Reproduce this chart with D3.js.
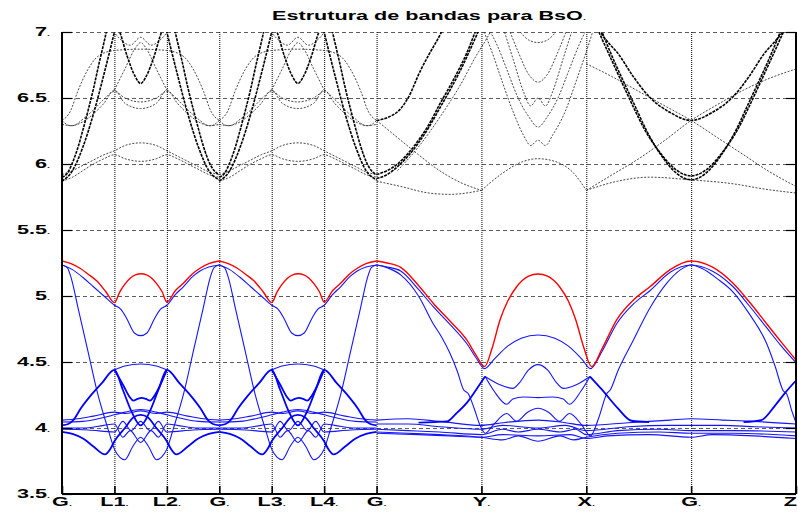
<!DOCTYPE html>
<html>
<head>
<meta charset="utf-8">
<script src="https://cdn.jsdelivr.net/npm/d3@7"></script>
<style>
  body { margin: 0; background: #fff; }
  text { font-family: "Liberation Sans", Arial, sans-serif; font-weight: bold; }
</style>
</head>
<body>
<div id="chart"></div>
<script>
// k-path ticks and labels
var kTicks = [0, 0.5, 1, 1.5, 2, 2.5, 3, 4, 5, 6, 7];
var kLabels = ["G", "L1", "L2", "G", "L3", "L4", "G", "Y", "X", "G", "Z"];
var eTicks = [3.5, 4, 4.5, 5, 5.5, 6, 6.5, 7];
var eLabels = ["3.5", "4", "4.5", "5", "5.5", "6", "6.5", "7"];

// the G-L-L-G block repeats twice
var blockStarts = [0, 1.5];

var blockRed = [[0,5.265],[0.086,5.245],[0.172,5.21],[0.25,5.165],[0.33,5.115],[0.42,5.03],[0.5,4.95],[0.55,5.03],[0.6,5.09],[0.65,5.135],[0.7,5.16],[0.753,5.168],[0.806,5.16],[0.856,5.135],[0.906,5.09],[0.956,5.03],[1.0,4.955],[1.08,5.04],[1.157,5.096],[1.24,5.165],[1.316,5.21],[1.4,5.245],[1.5,5.265]];

var blockBlue = [
  [[0,5.235],[0.1,5.2],[0.2,5.14],[0.3,5.07],[0.4,5.0],[0.5,4.93],[0.56,4.9],[0.617,4.83],[0.69,4.72],[0.75,4.70],[0.81,4.72],[0.883,4.83],[0.94,4.9],[1.0,4.93],[1.08,5.01],[1.157,5.07],[1.25,5.15],[1.316,5.19],[1.4,5.22],[1.5,5.235]],
  [[0,5.235],[0.05,5.215],[0.09,5.13],[0.15,4.92],[0.245,4.59],[0.34,4.26],[0.44,3.99],[0.5,3.84],[0.55,3.78],[0.6,3.76],[0.675,3.86],[0.75,3.93],[0.825,3.86],[0.9,3.76],[0.95,3.78],[1.0,3.84],[1.06,3.99],[1.16,4.26],[1.255,4.59],[1.35,4.92],[1.41,5.13],[1.45,5.215],[1.5,5.235]],
  [[0.5,4.44],[0.6,4.47],[0.75,4.485],[0.9,4.47],[1.0,4.44]],
  [[0,4.06],[0.15,4.07],[0.3,4.09],[0.5,4.12],[0.6,4.11],[0.75,4.13],[0.9,4.11],[1.0,4.12],[1.2,4.09],[1.35,4.07],[1.5,4.06]],
  [[0,4.045],[0.2,4.05],[0.4,4.08],[0.5,4.1],[0.6,4.12],[0.75,4.14],[0.9,4.12],[1.0,4.1],[1.1,4.08],[1.3,4.05],[1.5,4.045]],
  [[0,4.0],[0.2,4.0],[0.4,4.02],[0.5,4.03],[0.58,3.93],[0.65,3.98],[0.75,3.89],[0.85,3.98],[0.92,3.93],[1.0,4.03],[1.1,4.02],[1.3,4.0],[1.5,4.0]],
  [[0,3.99],[0.25,3.985],[0.5,3.97],[0.58,4.05],[0.66,3.98],[0.75,4.05],[0.84,3.98],[0.92,4.05],[1.0,3.97],[1.25,3.985],[1.5,3.99]]
];

var blockBlueThick = [
  [[0,4.02],[0.06,4.03],[0.108,4.06],[0.18,4.15],[0.267,4.24],[0.38,4.34],[0.5,4.44],[0.58,4.29],[0.66,4.13],[0.75,4.02],[0.84,4.13],[0.92,4.29],[1.0,4.44],[1.12,4.34],[1.233,4.24],[1.32,4.15],[1.392,4.06],[1.44,4.03],[1.5,4.02]],
  [[0.5,4.44],[0.58,4.33],[0.65,4.23],[0.68,4.207],[0.72,4.22],[0.76,4.228],[0.8,4.22],[0.84,4.207],[0.87,4.23],[0.94,4.33],[1.0,4.44]],
  [[0,3.97],[0.1,3.955],[0.2,3.92],[0.3,3.86],[0.41,3.80],[0.46,3.84],[0.5,3.9],[0.6,4.0],[0.68,4.08],[0.75,4.1],[0.82,4.08],[0.9,4.0],[1.0,3.9],[1.04,3.84],[1.09,3.80],[1.2,3.86],[1.3,3.92],[1.4,3.955],[1.5,3.97]]
];

var blockBlackHeavy = [
  [[0,5.90],[0.05,5.93],[0.1,6.01],[0.15,6.12],[0.2,6.26],[0.25,6.41],[0.3,6.57],[0.35,6.75],[0.4,6.92],[0.45,7.1]],
  [[0,5.87],[0.1,5.95],[0.2,6.13],[0.3,6.38],[0.4,6.68],[0.5,7.0],[0.53,7.1]],
  [[1.05,7.1],[1.1,6.93],[1.15,6.76],[1.2,6.58],[1.25,6.42],[1.3,6.27],[1.35,6.13],[1.4,6.02],[1.45,5.95],[1.5,5.92]],
  [[0.97,7.1],[1.0,7.0],[1.1,6.68],[1.2,6.38],[1.3,6.13],[1.4,5.95],[1.5,5.88]],
  [[0.52,7.05],[0.55,7.0],[0.62,6.82],[0.7,6.66],[0.75,6.61],[0.8,6.66],[0.88,6.82],[0.95,7.0],[0.98,7.05]]
];

var blockBlackLight = [
  [[0,5.87],[0.1,5.9],[0.2,5.95],[0.3,6.0],[0.4,6.04],[0.5,6.07],[0.6,6.04],[0.75,6.02],[0.9,6.04],[1.0,6.07],[1.1,6.04],[1.2,6.0],[1.3,5.96],[1.4,5.92],[1.5,5.90]],
  [[0,5.92],[0.1,5.95],[0.2,5.99],[0.3,6.03],[0.4,6.07],[0.5,6.1],[0.6,6.14],[0.75,6.16],[0.9,6.14],[1.0,6.1],[1.1,6.06],[1.2,6.02],[1.3,5.98],[1.4,5.94],[1.5,5.92]],
  [[0,6.33],[0.08,6.29],[0.2,6.32],[0.3,6.38],[0.4,6.46],[0.5,6.56],[0.6,6.46],[0.75,6.42],[0.9,6.46],[1.0,6.56],[1.1,6.46],[1.2,6.38],[1.3,6.32],[1.42,6.29],[1.5,6.33]],
  [[0,6.30],[0.1,6.29],[0.2,6.34],[0.3,6.41],[0.4,6.49],[0.5,6.55],[0.6,6.5],[0.75,6.47],[0.9,6.5],[1.0,6.55],[1.1,6.49],[1.2,6.41],[1.3,6.34],[1.4,6.29],[1.5,6.30]],
  [[0,6.33],[0.08,6.40],[0.15,6.55],[0.25,6.72],[0.35,6.82],[0.5,6.86],[0.75,6.87],[1.0,6.86],[1.15,6.82],[1.25,6.72],[1.35,6.55],[1.42,6.40],[1.5,6.33]],
  [[0.5,6.56],[0.6,6.72],[0.7,6.88],[0.75,6.92],[0.8,6.88],[0.9,6.72],[1.0,6.56]],
  [[0.45,7.05],[0.55,6.95],[0.65,6.9],[0.75,6.96],[0.85,6.9],[0.95,6.95],[1.05,7.05]]
];

// G - Y - X - G - Z part
var pathRed = [[3.0,5.265],[3.1,5.25],[3.23,5.217],[3.4,5.08],[3.54,4.945],[3.7,4.81],[3.86,4.667],[3.95,4.55],[4.03,4.465],[4.1,4.6],[4.177,4.818],[4.25,4.96],[4.336,5.07],[4.45,5.15],[4.54,5.167],[4.63,5.15],[4.745,5.07],[4.83,4.96],[4.9,4.818],[4.98,4.6],[5.05,4.465],[5.15,4.6],[5.29,4.82],[5.45,4.97],[5.607,5.07],[5.8,5.2],[6.0,5.265],[6.2,5.22],[6.4,5.096],[6.55,4.96],[6.72,4.79],[6.85,4.66],[7.0,4.515]];

var pathBlue = [
  [[3.0,5.235],[3.1,5.22],[3.23,5.19],[3.4,5.05],[3.54,4.92],[3.7,4.785],[3.86,4.64],[3.95,4.53],[4.03,4.45],[4.12,4.52],[4.25,4.62],[4.38,4.68],[4.54,4.705],[4.7,4.68],[4.83,4.62],[4.96,4.52],[5.04,4.45],[5.15,4.58],[5.29,4.79],[5.45,4.94],[5.607,5.04],[5.8,5.18],[6.0,5.235],[6.2,5.19],[6.4,5.07],[6.55,4.93],[6.72,4.76],[6.85,4.63],[7.0,4.495]],
  [[3.0,5.235],[3.1,5.215],[3.23,5.16],[3.4,5.0],[3.54,4.79],[3.62,4.69],[3.7,4.566],[3.77,4.43],[3.83,4.29],[3.875,4.26],[3.93,4.15],[3.987,4.02],[4.035,3.96],[4.12,4.03],[4.24,4.11],[4.336,4.05],[4.44,4.12],[4.54,4.15],[4.64,4.12],[4.745,4.05],[4.84,4.11],[4.96,4.02],[5.04,3.94],[5.12,4.08],[5.195,4.26],[5.23,4.29],[5.3,4.43],[5.45,4.667],[5.6,4.9],[5.77,5.1],[5.9,5.2],[6.0,5.235],[6.1,5.21],[6.25,5.13],[6.4,5.03],[6.55,4.87],[6.72,4.64],[6.8,4.47],[6.88,4.28],[6.91,4.26],[6.96,4.13],[7.0,4.04]],
  [[4.035,4.39],[4.17,4.33],[4.3,4.30],[4.36,4.34],[4.45,4.44],[4.54,4.48],[4.63,4.44],[4.72,4.34],[4.78,4.30],[4.91,4.33],[5.035,4.39]],
  [[4.035,4.39],[4.12,4.28],[4.24,4.18],[4.3,4.22],[4.4,4.235],[4.54,4.23],[4.68,4.235],[4.78,4.22],[4.84,4.18],[4.95,4.28],[5.035,4.39]],
  [[3.0,4.06],[3.3,4.07],[3.6,4.05],[4.0,4.02],[4.2,4.04],[4.54,4.06],[4.8,4.04],[5.0,4.02],[5.4,4.04],[5.8,4.06],[6.0,4.07],[6.3,4.06],[6.6,4.05],[7.0,4.03]],
  [[3.0,4.03],[3.3,4.03],[3.6,4.01],[4.0,3.99],[4.2,4.02],[4.54,4.0],[4.8,4.02],[5.0,3.98],[5.4,4.01],[5.8,4.02],[6.0,4.02],[6.3,4.02],[6.6,4.01],[7.0,4.0]],
  [[3.0,3.99],[3.3,3.98],[3.6,3.97],[4.0,3.95],[4.2,3.99],[4.35,3.97],[4.54,3.99],[4.75,3.97],[4.9,3.99],[5.0,3.95],[5.3,3.98],[5.7,3.99],[6.0,3.98],[6.4,3.98],[7.0,3.97]],
  [[3.0,3.97],[3.3,3.96],[3.6,3.95],[4.0,3.93],[4.2,3.91],[4.35,3.94],[4.54,3.90],[4.75,3.94],[4.88,3.91],[5.0,3.93],[5.3,3.96],[5.7,3.97],[6.0,3.96],[6.4,3.96],[7.0,3.94]],
  [[3.0,3.96],[3.4,3.95],[3.7,3.94],[4.0,3.93],[4.2,3.95],[4.54,3.94],[4.85,3.95],[5.0,3.92],[5.2,3.94],[5.6,3.95],[6.0,3.93],[6.2,3.95],[6.6,3.94],[7.0,3.92]]
];

var pathBlueThick = [
  [[3.4,4.04],[3.55,4.045],[3.67,4.05],[3.76,4.11],[3.86,4.19],[3.95,4.29],[4.035,4.39]],
  [[5.035,4.39],[5.15,4.29],[5.3,4.15],[5.43,4.055],[5.6,4.045]],
  [[6.5,4.045],[6.67,4.06],[6.8,4.17],[6.9,4.27],[7.0,4.36]]
];

var pathBlackHeavy = [
  [[3.0,5.92],[3.1,5.95],[3.2,6.0],[3.3,6.08],[3.4,6.18],[3.5,6.3],[3.6,6.45],[3.7,6.59],[3.8,6.74],[3.86,6.84],[3.94,7.0],[3.98,7.08]],
  [[3.0,5.89],[3.1,5.92],[3.2,5.98],[3.3,6.06],[3.4,6.16],[3.5,6.28],[3.6,6.42],[3.7,6.56],[3.8,6.71],[3.9,6.88],[3.98,7.02],[4.02,7.08]],
  [[3.0,6.33],[3.1,6.35],[3.23,6.42],[3.3,6.5],[3.42,6.71],[3.5,6.83],[3.6,6.97],[3.65,7.05]],
  [[5.12,7.05],[5.14,7.0],[5.2,6.93],[5.3,6.84],[5.45,6.66],[5.6,6.51],[5.8,6.39],[6.0,6.33],[6.2,6.39],[6.4,6.51],[6.55,6.66],[6.7,6.84],[6.8,6.93],[6.87,7.0],[6.9,7.05]],
  [[5.12,7.0],[5.24,6.79],[5.35,6.6],[5.45,6.43],[5.55,6.27],[5.71,6.08],[5.85,5.96],[6.0,5.91],[6.15,5.96],[6.29,6.08],[6.45,6.27],[6.55,6.43],[6.65,6.6],[6.76,6.79],[6.88,7.0]],
  [[5.14,7.02],[5.26,6.79],[5.37,6.6],[5.47,6.43],[5.57,6.26],[5.72,6.06],[5.86,5.93],[6.0,5.88],[6.14,5.93],[6.28,6.06],[6.43,6.26],[6.53,6.43],[6.63,6.6],[6.74,6.79],[6.86,7.02]]
];

var pathBlackLight = [
  [[3.0,6.33],[3.2,6.2],[3.4,6.07],[3.6,5.95],[3.8,5.86],[4.0,5.80]],
  [[3.0,5.87],[3.23,5.83],[3.5,5.78],[3.7,5.77],[4.0,5.80]],
  [[3.2,5.95],[3.4,6.13],[3.6,6.35],[3.8,6.6],[3.95,6.82],[4.05,6.95],[4.12,7.05]],
  [[4.0,5.80],[4.2,5.93],[4.4,6.02],[4.54,6.04],[4.7,6.02],[4.88,5.93],[5.0,5.80]],
  [[4.0,7.05],[4.1,6.85],[4.2,6.62],[4.3,6.4],[4.4,6.22],[4.47,6.14],[4.54,6.18],[4.61,6.14],[4.68,6.22],[4.8,6.4],[4.9,6.62],[5.0,6.85],[5.08,7.05]],
  [[4.05,7.05],[4.15,6.9],[4.25,6.7],[4.35,6.5],[4.45,6.36],[4.54,6.28],[4.63,6.36],[4.73,6.5],[4.83,6.7],[4.93,6.9],[5.02,7.05]],
  [[4.2,7.05],[4.3,6.8],[4.4,6.55],[4.47,6.44],[4.54,6.5],[4.61,6.44],[4.68,6.55],[4.78,6.8],[4.88,7.05]],
  [[4.25,7.05],[4.35,6.85],[4.45,6.68],[4.54,6.62],[4.63,6.68],[4.73,6.85],[4.83,7.05]],
  [[4.35,7.02],[4.45,6.94],[4.54,6.92],[4.63,6.94],[4.73,7.02]],
  [[5.0,6.76],[5.25,6.66],[5.5,6.55],[5.75,6.44],[6.0,6.33],[6.25,6.2],[6.5,6.07],[6.75,5.94],[7.0,5.83]],
  [[5.0,5.80],[5.25,5.92],[5.5,6.04],[5.75,6.18],[6.0,6.33],[6.25,6.45],[6.5,6.56],[6.75,6.65],[7.0,6.72]],
  [[5.0,5.80],[5.3,5.87],[5.6,5.9],[6.0,5.88],[6.4,5.85],[6.7,5.81],[7.0,5.78]]
];

var svgWidth = 798, svgHeight = 512;
var margin = {top: 32, right: 2, bottom: 18, left: 62};
var width = svgWidth - margin.left - margin.right;
var height = svgHeight - margin.top - margin.bottom;

var svg = d3.select("#chart").append("svg")
  .attr("width", svgWidth)
  .attr("height", svgHeight);

var g = svg.append("g")
  .attr("transform", `translate(${margin.left},${margin.top})`);

var x = d3.scaleLinear().domain([0, 7]).range([0, width]);
var y = d3.scaleLinear().domain([3.5, 7]).range([height, 0]);

// grid
g.append("g")
  .call(d3.axisLeft(y).tickValues(eTicks).tickSize(-width).tickFormat(""))
  .call(s => s.select(".domain").remove())
  .selectAll("line")
  .attr("stroke", "#333")
  .attr("stroke-width", 0.8)
  .attr("stroke-dasharray", "4,3");

g.append("g")
  .attr("transform", `translate(0,${height})`)
  .call(d3.axisBottom(x).tickValues(kTicks).tickSize(height).tickFormat(""))
  .call(s => s.select(".domain").remove())
  .selectAll("line")
  .attr("transform", `translate(0,${-height})`)
  .attr("stroke", "#000")
  .attr("stroke-width", 1)
  .attr("stroke-dasharray", "1,1");

g.append("clipPath").attr("id", "plotclip")
  .append("rect").attr("width", width).attr("height", height);

var bands = g.append("g").attr("clip-path", "url(#plotclip)");

function drawSet(list, offset, color, w, dash) {
  var line = d3.line()
    .x(d => x(d[0] + offset))
    .y(d => y(d[1]))
    .curve(d3.curveMonotoneX);
  bands.append("g").selectAll("path")
    .data(list)
    .enter()
    .append("path")
    .attr("d", line)
    .attr("fill", "none")
    .attr("stroke", color)
    .attr("stroke-width", w)
    .attr("stroke-dasharray", dash);
}

// conduction bands (black dotted)
blockStarts.forEach(function(k0) {
  drawSet(blockBlackLight, k0, "#333", 0.9, "2,1.5");
  drawSet(blockBlackHeavy, k0, "#000", 1.6, "3,1");
});
drawSet(pathBlackLight, 0, "#333", 0.9, "2,1.5");
drawSet(pathBlackHeavy, 0, "#000", 1.6, "3,1");

// valence bands
blockStarts.forEach(function(k0) {
  drawSet(blockBlue, k0, "#1515ff", 1.1, null);
  drawSet(blockBlueThick, k0, "#0000ff", 1.8, null);
  drawSet([blockRed], k0, "#ff0000", 1.4, null);
});
drawSet(pathBlue, 0, "#1515ff", 1.1, null);
drawSet(pathBlueThick, 0, "#0000ff", 1.8, null);
drawSet([pathRed], 0, "#ff0000", 1.4, null);

// ticks
g.append("g")
  .call(d3.axisLeft(y).tickValues(eTicks).tickSize(-10).tickFormat(""))
  .call(s => s.select(".domain").remove())
  .selectAll("line").attr("stroke", "#000").attr("stroke-width", 1.2);
g.append("g")
  .attr("transform", `translate(${width},0)`)
  .call(d3.axisRight(y).tickValues(eTicks).tickSize(-10).tickFormat(""))
  .call(s => s.select(".domain").remove())
  .selectAll("line").attr("stroke", "#000").attr("stroke-width", 1.2);
g.append("g")
  .attr("transform", `translate(0,${height})`)
  .call(d3.axisBottom(x).tickValues(kTicks).tickSize(-8).tickFormat(""))
  .call(s => s.select(".domain").remove())
  .selectAll("line").attr("stroke", "#000").attr("stroke-width", 1.6);

// frame
g.append("line").attr("x1", 0).attr("x2", 0).attr("y1", 0).attr("y2", height)
  .attr("stroke", "#000").attr("stroke-width", 2);
g.append("line").attr("x1", width).attr("x2", width).attr("y1", 0).attr("y2", height)
  .attr("stroke", "#000").attr("stroke-width", 2);
g.append("line").attr("x1", 0).attr("x2", width).attr("y1", height).attr("y2", height)
  .attr("stroke", "#000").attr("stroke-width", 2);

// labels
var yl = g.selectAll(".ylab")
  .data(eTicks)
  .enter()
  .append("text")
  .attr("class", "ylab")
  .attr("transform", d => `translate(-12,${y(d) + 3.5}) scale(1.8,1)`)
  .attr("text-anchor", "end")
  .attr("font-size", "12px");
yl.append("tspan").text((d, i) => eLabels[i]);
yl.append("tspan").attr("font-size", "6px").text(".");

var last = kTicks.length - 1;
var xl = g.selectAll(".xlab")
  .data(kTicks)
  .enter()
  .append("text")
  .attr("class", "xlab")
  .attr("transform", (d, i) => `translate(${i === last ? width + 1 : x(d)},${height + 11.5}) scale(1.8,1)`)
  .attr("text-anchor", (d, i) => i === last ? "end" : "middle")
  .attr("font-size", "12px");
xl.append("tspan").text((d, i) => kLabels[i]);
xl.filter((d, i) => i < last)
  .append("tspan").attr("font-size", "6px").text(".");

var title = svg.append("text")
  .attr("transform", `translate(${margin.left + width / 2},20) scale(1.8,1)`)
  .attr("text-anchor", "middle")
  .attr("font-size", "12px");
title.append("tspan").text("Estrutura de bandas para BsO");
title.append("tspan").attr("font-size", "6px").text(".");
</script>
</body>
</html>
